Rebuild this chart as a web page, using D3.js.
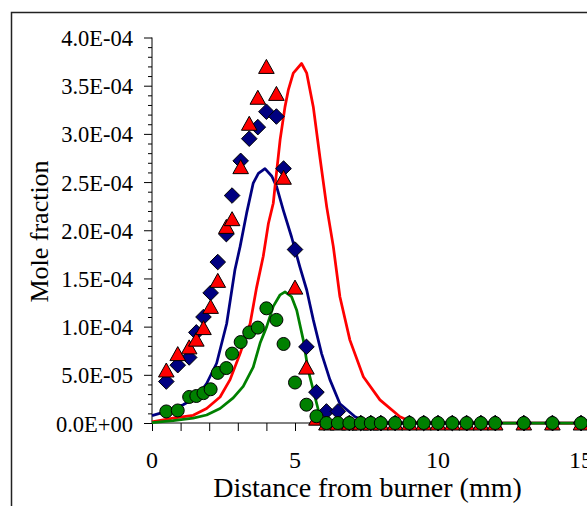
<!DOCTYPE html>
<html>
<head>
<meta charset="utf-8">
<script src="https://cdn.jsdelivr.net/npm/d3@7"></script>
<style>
  body { margin: 0; background: #fff; }
  svg { display: block; }
  text { font-family: "Liberation Serif", "Times New Roman", serif; fill: #000; }
</style>
</head>
<body>
<svg id="chart"></svg>
<script>
// experimental points, x in mm, mole fraction in units of 1e-4
const distExp = [0.5, 0.9, 1.3, 1.55, 1.8, 2.05, 2.3, 2.6, 2.8, 3.1, 3.4, 3.7, 4.0, 4.35, 4.6, 5.0, 5.4, 5.75,
  6.1, 6.5, 6.9, 7.3, 7.65, 8.0, 8.5, 9.0, 9.5, 10.0, 10.5, 11.0, 11.5, 12.0, 13.0, 14.0, 15.0];
const blueExp = [0.43, 0.60, 0.68, 0.94, 1.10, 1.35, 1.67, 1.96, 2.36, 2.72, 2.95, 3.07, 3.23, 3.18, 2.64, 1.80, 0.79, 0.32,
  0.12, 0.12, 0, 0, 0, 0, 0, 0, 0, 0, 0, 0, 0, 0, 0, 0, 0];
const redExp = [0.55, 0.72, 0.79, 0.87, 0.99, 1.21, 1.48, 2.04, 2.12, 2.66, 3.11, 3.38, 3.70, 3.42, 2.55, 1.41, 0.58, 0.05,
  0, 0, 0, 0, 0, 0, 0, 0, 0, 0, 0, 0, 0, 0, 0, 0, 0];
const greenExp = [0.12, 0.13, 0.27, 0.28, 0.31, 0.35, 0.52, 0.57, 0.72, 0.84, 0.94, 0.99, 1.19, 1.07, 0.82, 0.42, 0.19, 0.07,
  0, 0, 0, 0, 0, 0, 0, 0, 0, 0, 0, 0, 0, 0, 0, 0, 0];

// model curves
const blueModelX = [0, 0.51, 1.09, 1.56, 1.91, 2.26, 2.61, 2.9, 3.08, 3.31, 3.54, 3.72, 3.95, 4.19, 4.36, 4.59, 4.88,
  5.17, 5.41, 5.64, 5.93, 6.22, 6.57, 7.1, 7.5, 8.0, 15];
const blueModelY = [0.076, 0.12, 0.19, 0.27, 0.41, 0.62, 1.03, 1.59, 1.83, 2.18, 2.49, 2.59, 2.64, 2.56, 2.45, 2.21, 1.93,
  1.62, 1.38, 1.07, 0.72, 0.45, 0.20, 0.065, 0.013, 0, 0];
const redModelX = [0, 0.74, 1.44, 1.91, 2.38, 2.73, 3.08, 3.43, 3.66, 3.89, 4.07, 4.24, 4.30, 4.48, 4.65, 4.77, 4.94,
  5.23, 5.41, 5.64, 5.87, 6.11, 6.34, 6.57, 6.92, 7.39, 7.97, 8.67, 9.14, 9.6, 15];
const redModelY = [0.013, 0.05, 0.08, 0.15, 0.27, 0.45, 0.72, 1.03, 1.41, 1.73, 2.07, 2.28, 2.45, 2.94, 3.28, 3.46, 3.63,
  3.73, 3.63, 3.28, 2.76, 2.24, 1.83, 1.31, 0.86, 0.48, 0.24, 0.065, 0.003, 0, 0];
const greenModelX = [0, 0.74, 1.44, 1.91, 2.38, 2.84, 3.19, 3.54, 3.78, 4.01, 4.24, 4.48, 4.65, 4.88, 5.06, 5.29, 5.46,
  5.64, 5.82, 5.94, 6.2, 15];
const greenModelY = [0.003, 0.024, 0.05, 0.083, 0.15, 0.26, 0.38, 0.58, 0.83, 1.0, 1.21, 1.33, 1.36, 1.31, 1.17, 0.86, 0.55,
  0.34, 0.13, 0.03, 0, 0];

const yTicks = [0, 0.5, 1.0, 1.5, 2.0, 2.5, 3.0, 3.5, 4.0];
const xTicks = [0, 5, 10, 15];

const width = 587;
const height = 506;
const plot = {left: 152, right: 581, top: 37.5, bottom: 423};

const svg = d3.select('#chart')
    .attr('width', width)
    .attr('height', height);

svg.append('rect')
    .attr('width', width).attr('height', height)
    .attr('fill', '#fff');

// outer chart frame (runs off the picture right and bottom)
svg.append('rect')
    .attr('x', 11.5).attr('y', 12.5)
    .attr('width', 640).attr('height', 560)
    .attr('fill', 'none')
    .attr('stroke', '#222')
    .attr('stroke-width', 1.5);

const x = d3.scaleLinear().domain([0, 15]).range([plot.left, plot.right]);
const y = d3.scaleLinear().domain([0, 4]).range([plot.bottom, plot.top]);

function sciLabel(v) {
  var s = (v * 1e-4).toExponential(1).toUpperCase();
  return s.replace(/E([+-])(\d)$/, 'E$10$2');
}

// Y axis
const yAxis = svg.append('g')
    .attr('transform', 'translate(' + plot.left + ',0)');
yAxis.call(d3.axisLeft(y).tickValues(d3.range(0, 4.01, 0.1)).tickSize(4).tickFormat(''));
yAxis.call(function(g) {
  g.selectAll('.tick').filter(function(d) { return yTicks.some(function(t) { return Math.abs(t - d) < 1e-6; }); })
      .select('line').attr('x2', -8);
});
yAxis.selectAll('path, line').attr('stroke', '#000').attr('stroke-width', 1);
yAxis.select('.domain').attr('d', 'M0,' + plot.top + 'V' + plot.bottom);

svg.append('g').selectAll('text')
    .data(yTicks)
    .enter()
    .append('text')
    .attr('x', 133)
    .attr('y', function(d) { return y(d) + 8.5; })
    .attr('text-anchor', 'end')
    .style('font-size', '22.5px')
    .text(function(d) { return sciLabel(d); });

// X axis
const xAxis = svg.append('g')
    .attr('transform', 'translate(0,' + plot.bottom + ')');
xAxis.call(d3.axisBottom(x).tickValues(d3.range(0, 16, 1)).tickSize(8).tickFormat(''));
xAxis.selectAll('path, line').attr('stroke', '#000').attr('stroke-width', 1);
xAxis.select('.domain').attr('d', 'M' + plot.left + ',0H' + (width + 10));

svg.append('g').selectAll('text')
    .data(xTicks)
    .enter()
    .append('text')
    .attr('x', function(d) { return x(d); })
    .attr('y', 468)
    .attr('text-anchor', 'middle')
    .style('font-size', '24px')
    .text(function(d) { return d; });

// titles
svg.append('text')
    .attr('x', 367.5)
    .attr('y', 496.5)
    .attr('text-anchor', 'middle')
    .style('font-size', '28px')
    .text('Distance from burner (mm)');

svg.append('text')
    .attr('transform', 'translate(47.5,231.5) rotate(-90)')
    .attr('text-anchor', 'middle')
    .style('font-size', '26px')
    .text('Mole fraction');

// model lines
const line = d3.line()
    .x(function(d) { return x(d[0]); })
    .y(function(d) { return y(d[1]); });

const models = [
  {xs: blueModelX, ys: blueModelY, color: '#000080'},
  {xs: redModelX, ys: redModelY, color: '#ff0000'},
  {xs: greenModelX, ys: greenModelY, color: '#008000'}
];
models.forEach(function(m) {
  svg.append('path')
      .datum(d3.zip(m.xs, m.ys))
      .attr('d', line)
      .attr('fill', 'none')
      .attr('stroke', m.color)
      .attr('stroke-width', 2.75)
      .attr('stroke-linejoin', 'round');
});

// experimental markers
svg.append('g').selectAll('path')
    .data(d3.zip(distExp, blueExp))
    .enter()
    .append('path')
    .attr('d', 'M0,-7.8L7.8,0L0,7.8L-7.8,0Z')
    .attr('transform', function(d) { return 'translate(' + x(d[0]) + ',' + y(d[1]) + ')'; })
    .attr('fill', '#000080')
    .attr('stroke', '#000')
    .attr('stroke-width', 1);

svg.append('g').selectAll('path')
    .data(d3.zip(distExp, redExp))
    .enter()
    .append('path')
    .attr('d', 'M0,-7L7.8,7L-7.8,7Z')
    .attr('transform', function(d) { return 'translate(' + x(d[0]) + ',' + y(d[1]) + ')'; })
    .attr('fill', '#ff0000')
    .attr('stroke', '#000')
    .attr('stroke-width', 1);

svg.append('g').selectAll('circle')
    .data(d3.zip(distExp, greenExp))
    .enter()
    .append('circle')
    .attr('cx', function(d) { return x(d[0]); })
    .attr('cy', function(d) { return y(d[1]); })
    .attr('r', 6.5)
    .attr('fill', '#008000')
    .attr('stroke', '#000')
    .attr('stroke-width', 1);
</script>
</body>
</html>
